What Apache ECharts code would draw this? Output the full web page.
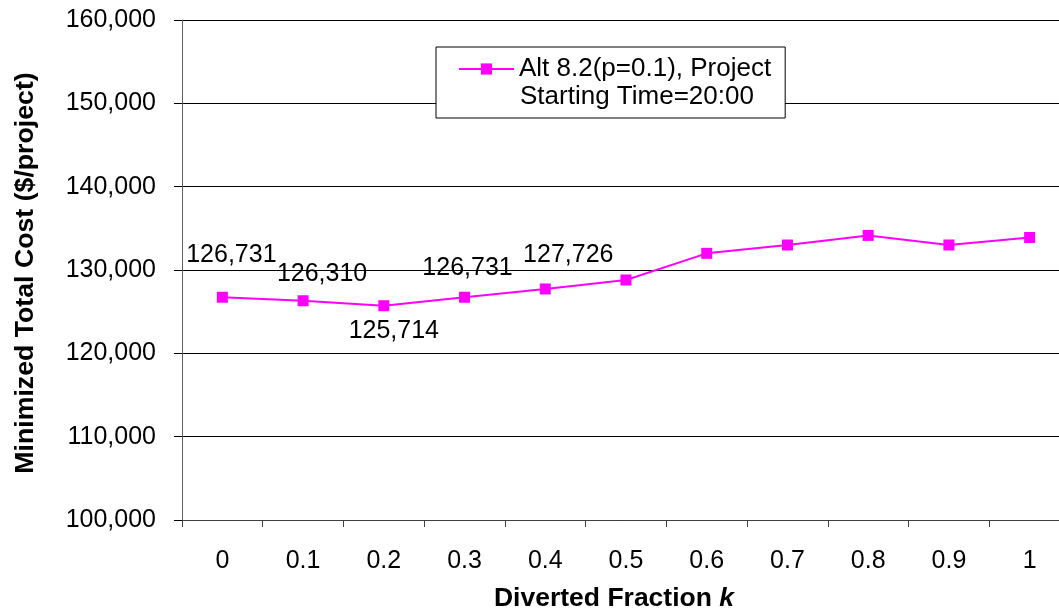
<!DOCTYPE html>
<html>
<head>
<meta charset="utf-8">
<script src="https://cdn.jsdelivr.net/npm/echarts@6/dist/echarts.min.js"></script>
<style>
html,body{margin:0;padding:0;background:#fff;}
#chart{width:1059px;height:614px;}
</style>
</head>
<body>
<div id="chart"></div>
<script>
var categories = ['0','0.1','0.2','0.3','0.4','0.5','0.6','0.7','0.8','0.9','1'];
var costs = [126731, 126310, 125714, 126731, 127726, 128800, 132000, 133000, 134150, 133000, 133900];
var labeledIndices = [0, 1, 2, 3, 4];
var yTicks = {min: 100000, max: 160000, interval: 10000};
var seriesName = 'Alt 8.2(p=0.1), Project';
var seriesNameLine2 = 'Starting Time=20:00';
var xTitle = 'Diverted Fraction ';
var xTitleItalic = 'k';
var yTitle = 'Minimized Total Cost ($/project)';

// label placement (style only)
var labelOffsets = [[9,-42],[19,-27],[10,25],[3,-29],[23,-34]];

var FONT = '"Liberation Sans", Arial, sans-serif';
var MAG = '#FF00FF';

function fmt(v){ return v.toString().replace(/\B(?=(\d{3})+(?!\d))/g, ','); }

var seriesData = costs.map(function(v, i){
  var li = labeledIndices.indexOf(i);
  var item = {value: v};
  if (li >= 0) {
    item.label = {show: true, position: 'inside', offset: labelOffsets[li]};
  }
  return item;
});

var chart = echarts.init(document.getElementById('chart'));
chart.setOption({
  animation: false,
  backgroundColor: '#fff',
  grid: {left: 182, top: 20, width: 888, height: 500, containLabel: false, outerBoundsMode: 'none'},
  legend: {
    data: [seriesName],
    left: 436, top: 47,
    orient: 'vertical',
    backgroundColor: '#fff',
    borderColor: '#000', borderWidth: 1,
    padding: [8, 14, 35, 22],
    itemWidth: 55, itemHeight: 14,
    textStyle: {fontFamily: FONT, fontSize: 26, color: '#000', lineHeight: 28},
    z: 10
  },
  graphic: [{
    type: 'text', left: 520, top: 84, z: 100,
    style: {text: seriesNameLine2, font: '26px ' + FONT, fill: '#000'}
  }],
  xAxis: {
    type: 'category',
    data: categories,
    boundaryGap: true,
    name: xTitle + '{k|' + xTitleItalic + '}',
    nameLocation: 'middle',
    nameGap: 65,
    nameTextStyle: {fontFamily: FONT, fontSize: 26.5, fontWeight: 'bold', color: '#000', padding: [0, 24, 0, 0],
      rich: {k: {fontFamily: FONT, fontSize: 26.5, fontWeight: 'bold', fontStyle: 'italic', color: '#000'}}},
    axisLine: {show: true, lineStyle: {color: '#404040', width: 1}},
    axisTick: {show: true, alignWithLabel: false, length: 7, lineStyle: {color: '#404040'}},
    axisLabel: {fontFamily: FONT, fontSize: 25, color: '#000', margin: 29},
    splitLine: {show: false}
  },
  yAxis: {
    type: 'value',
    min: yTicks.min, max: yTicks.max, interval: yTicks.interval,
    name: yTitle,
    nameLocation: 'middle',
    nameGap: 143,
    nameRotate: 90,
    nameTextStyle: {fontFamily: FONT, fontSize: 26.7, fontWeight: 'bold', color: '#000', padding: [0, 6, 0, 0]},
    axisLine: {show: true, lineStyle: {color: '#606060', width: 1}},
    axisTick: {show: true, inside: false, length: 8, lineStyle: {color: '#000'}},
    axisLabel: {fontFamily: FONT, fontSize: 25, color: '#000', margin: 26, formatter: function(v){ return fmt(v); }},
    splitLine: {show: true, lineStyle: {color: '#000', width: 1}}
  },
  series: [{
    name: seriesName,
    type: 'line',
    data: seriesData,
    symbol: 'rect',
    symbolSize: 11,
    itemStyle: {color: MAG},
    lineStyle: {color: MAG, width: 2},
    label: {show: false, fontFamily: FONT, fontSize: 25, color: '#000', formatter: function(p){ return fmt(p.value); }},
    z: 5
  }]
});
</script>
</body>
</html>
